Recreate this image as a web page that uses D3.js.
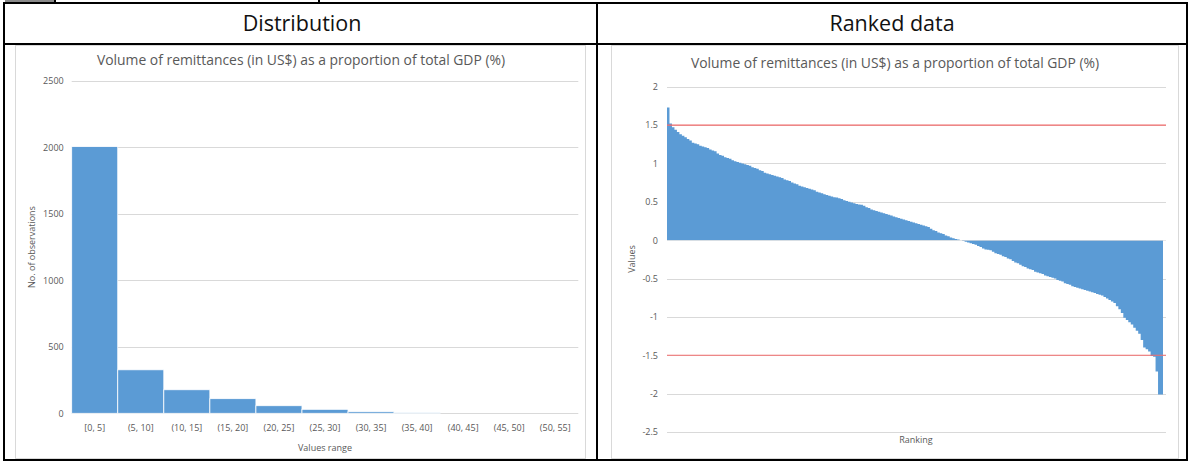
<!DOCTYPE html>
<html><head><meta charset="utf-8">
<script src="https://cdn.jsdelivr.net/npm/d3@7"></script>
<style>
html,body{margin:0;padding:0;background:#fff;}
svg{display:block;font-family:"Open Sans",sans-serif;}
</style></head>
<body><svg id="c" width="1190" height="462"></svg>
<script>
// ---------- data ----------
const headers = ["Distribution", "Ranked data"];
const chartTitle = "Volume of remittances (in US$) as a proportion of total GDP (%)";
const distCategories = ["[0, 5]","(5, 10]","(10, 15]","(15, 20]","(20, 25]","(25, 30]","(30, 35]","(35, 40]","(40, 45]","(45, 50]","(50, 55]"];
const distCounts = [2005, 327, 177, 110, 57, 30, 12, 5, 0, 0, 0];
const distTicks = [0, 500, 1000, 1500, 2000, 2500];
const distXLabel = "Values range";
const distYLabel = "No. of observations";
const rankedValues = [
 1.73, 1.52, 1.47, 1.44, 1.41, 1.38, 1.36, 1.34, 1.32, 1.30,
 1.27, 1.26, 1.25, 1.23, 1.22, 1.21, 1.20, 1.18, 1.17, 1.16,
 1.13, 1.11, 1.10, 1.08, 1.07, 1.06, 1.04, 1.03, 1.02, 1.01,
 1.00, 0.99, 0.98, 0.97, 0.95, 0.94, 0.93, 0.91, 0.90, 0.88,
 0.87, 0.86, 0.85, 0.84, 0.83, 0.82, 0.81, 0.79, 0.78, 0.77,
 0.75, 0.74, 0.73, 0.71, 0.70, 0.69, 0.68, 0.67, 0.66, 0.65,
 0.63, 0.62, 0.61, 0.60, 0.59, 0.58, 0.57, 0.56, 0.555, 0.545,
 0.535, 0.52, 0.51, 0.50, 0.49, 0.48, 0.47, 0.465, 0.46, 0.45,
 0.43, 0.42, 0.40, 0.39, 0.38, 0.37, 0.36, 0.35, 0.34, 0.33,
 0.32, 0.31, 0.30, 0.29, 0.28, 0.27, 0.26, 0.25, 0.24, 0.23,
 0.22, 0.21, 0.20, 0.19, 0.18, 0.17, 0.15, 0.13, 0.12, 0.10,
 0.09, 0.08, 0.06, 0.05, 0.035, 0.025, 0.015, 0.01, 0.0, -0.01,
 -0.02, -0.03, -0.04, -0.05, -0.06, -0.075, -0.09, -0.11, -0.12, -0.125,
 -0.13, -0.15, -0.17, -0.18, -0.19, -0.21, -0.22, -0.24, -0.25, -0.27,
 -0.29, -0.30, -0.32, -0.34, -0.35, -0.37, -0.38, -0.39, -0.41, -0.42,
 -0.43, -0.44, -0.46, -0.47, -0.48, -0.49, -0.50, -0.52, -0.53, -0.54,
 -0.56, -0.57, -0.58, -0.60, -0.61, -0.62, -0.63, -0.64, -0.65, -0.66,
 -0.67, -0.68, -0.69, -0.70, -0.71, -0.72, -0.74, -0.76, -0.78, -0.80,
 -0.82, -0.86, -0.90, -0.95, -1.01, -1.04, -1.07, -1.10, -1.14, -1.18,
 -1.22, -1.30, -1.40, -1.42, -1.45, -1.51, -1.52, -1.71, -2.01, -2.01
];
const rankedTicks = [-2.5, -2, -1.5, -1, -0.5, 0, 0.5, 1, 1.5, 2];
const thresholds = [1.5, -1.5];
const rankXLabel = "Ranking";
const rankYLabel = "Values";

// ---------- styles ----------
const BLUE = "#5b9bd5", GRID = "#d9d9d9", TXT = "#595959", RED = "#f26b6b";
const svg = d3.select("#c");

// ---------- table frame ----------
svg.append("rect").attr("x",5).attr("y",0).attr("width",50).attr("height",3).attr("fill","#8a8a8a");
svg.append("rect").attr("x",54).attr("y",0).attr("width",2).attr("height",4).attr("fill","#000");
svg.append("rect").attr("x",318).attr("y",0).attr("width",2).attr("height",4).attr("fill","#000");
const frame = svg.append("g").attr("fill","#000");
frame.append("rect").attr("x",3).attr("y",2).attr("width",1185).attr("height",2);
frame.append("rect").attr("x",3).attr("y",43).attr("width",1185).attr("height",2);
frame.append("rect").attr("x",3).attr("y",459).attr("width",1185).attr("height",2);
frame.append("rect").attr("x",3).attr("y",2).attr("width",2).attr("height",459);
frame.append("rect").attr("x",596).attr("y",2).attr("width",2).attr("height",459);
frame.append("rect").attr("x",1186).attr("y",2).attr("width",2).attr("height",459);

svg.selectAll("text.hdr").data(headers).join("text").attr("class","hdr")
  .attr("x",(d,i)=> i===0 ? 302 : 892).attr("y",30.5)
  .attr("text-anchor","middle").attr("font-size",21.5).attr("fill","#111").text(d=>d);

// chart boxes
svg.append("rect").attr("x",15.5).attr("y",45.5).attr("width",570).attr("height",413).attr("fill","none").attr("stroke",GRID);
svg.append("rect").attr("x",611.5).attr("y",45.5).attr("width",567).attr("height",413).attr("fill","none").attr("stroke",GRID);

// ---------- left: distribution ----------
{
  const x = d3.scaleBand().domain(distCategories).range([71.7, 578.3]).padding(0);
  const y = d3.scaleLinear().domain([0, 2500]).range([413.3, 80.7]);
  const g = svg.append("g");
  g.selectAll("line.grid").data(distTicks).join("line").attr("class","grid")
    .attr("x1",71.7).attr("x2",578.3).attr("y1",d=>Math.round(y(d))+0.5).attr("y2",d=>Math.round(y(d))+0.5)
    .attr("stroke",GRID).attr("stroke-width",1);
  g.selectAll("rect.bar").data(distCounts).join("rect").attr("class","bar")
    .attr("x",(d,i)=>x(distCategories[i])).attr("width",x.bandwidth())
    .attr("y",d=>y(d)).attr("height",d=>y(0)-y(d))
    .attr("fill",BLUE).attr("stroke","#fff").attr("stroke-width",0.8);
  const ya = g.append("g").attr("transform","translate(71.7,0)")
    .call(d3.axisLeft(y).tickValues(distTicks).tickSize(0).tickPadding(8).tickFormat(d3.format("d")));
  ya.select(".domain").remove();
  ya.selectAll("text").attr("fill",TXT).attr("font-size",9).attr("font-family","Open Sans");
  const xa = g.append("g").attr("transform","translate(0,413.3)")
    .call(d3.axisBottom(x).tickSize(0).tickPadding(11));
  xa.select(".domain").remove();
  xa.selectAll("text").attr("fill",TXT).attr("font-size",9).attr("font-family","Open Sans");
  g.append("text").attr("x",325).attr("y",451).attr("text-anchor","middle").attr("font-size",9).attr("fill",TXT).text(distXLabel);
  g.append("text").attr("transform","translate(35,247) rotate(-90)").attr("text-anchor","middle").attr("font-size",9).attr("fill",TXT).text(distYLabel);
  g.append("text").attr("x",301).attr("y",65).attr("text-anchor","middle").attr("font-size",13.9).attr("fill",TXT).text(chartTitle);
}

// ---------- right: ranked data ----------
{
  const N = rankedValues.length;
  const x = d3.scaleLinear().domain([0, N]).range([667, 1163]);
  const y = d3.scaleLinear().domain([-2.5, 2]).range([432, 86.7]);
  const g = svg.append("g");
  g.selectAll("line.grid").data(rankedTicks.filter(d=>d!==0)).join("line").attr("class","grid")
    .attr("x1",667).attr("x2",1166).attr("y1",d=>Math.round(y(d))+0.5).attr("y2",d=>Math.round(y(d))+0.5)
    .attr("stroke",GRID).attr("stroke-width",1);
  const pts = rankedValues.map((v,i)=>({i, v})).concat([{i:N, v:rankedValues[N-1]}]);
  const area = d3.area().x(d=>x(d.i)).y0(y(0)).y1(d=>y(d.v)).curve(d3.curveStepAfter);
  g.append("path").datum(pts).attr("d",area).attr("fill",BLUE);
  g.append("line").attr("x1",667).attr("x2",1166).attr("y1",Math.round(y(0))+0.5).attr("y2",Math.round(y(0))+0.5)
    .attr("stroke",GRID).attr("stroke-width",1).attr("opacity",0.6);
  g.selectAll("line.thr").data(thresholds).join("line").attr("class","thr")
    .attr("x1",667).attr("x2",1166).attr("y1",d=>y(d)).attr("y2",d=>y(d))
    .attr("stroke",RED).attr("stroke-width",1.2);
  const ya = g.append("g").attr("transform","translate(667,0)")
    .call(d3.axisLeft(y).tickValues(rankedTicks).tickSize(0).tickPadding(9).tickFormat(d=>String(d)));
  ya.select(".domain").remove();
  ya.selectAll("text").attr("fill",TXT).attr("font-size",9).attr("font-family","Open Sans");
  g.append("text").attr("x",916).attr("y",443).attr("text-anchor","middle").attr("font-size",9).attr("fill",TXT).text(rankXLabel);
  g.append("text").attr("transform","translate(635,259) rotate(-90)").attr("text-anchor","middle").attr("font-size",9).attr("fill",TXT).text(rankYLabel);
  g.append("text").attr("x",895).attr("y",68).attr("text-anchor","middle").attr("font-size",13.9).attr("fill",TXT).text(chartTitle);
}
</script></body></html>
